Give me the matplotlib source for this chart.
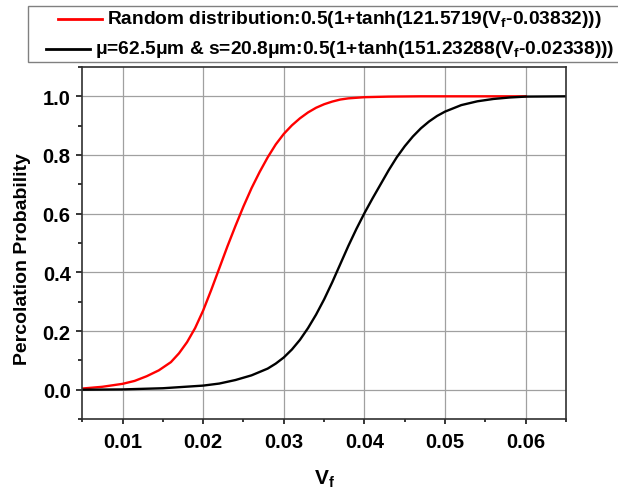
import numpy as np
import matplotlib
matplotlib.use("Agg")
import matplotlib.pyplot as plt
from matplotlib.lines import Line2D
from matplotlib.ticker import MultipleLocator
from matplotlib.offsetbox import AnchoredOffsetbox, DrawingArea, HPacker, VPacker, TextArea

plt.rcParams['font.family'] = ['Liberation Sans', 'DejaVu Sans']
plt.rcParams['font.weight'] = 'bold'
plt.rcParams['mathtext.fontset'] = 'custom'
plt.rcParams['mathtext.rm'] = 'Liberation Sans:bold'
plt.rcParams['mathtext.it'] = 'Liberation Sans:bold'
plt.rcParams['mathtext.bf'] = 'Liberation Sans:bold'

# values
vf_random = [0.005, 0.0075, 0.010, 0.0115, 0.013, 0.0145, 0.016, 0.017, 0.018,
             0.019, 0.020, 0.021, 0.022, 0.023, 0.024, 0.025, 0.026, 0.027,
             0.028, 0.029, 0.030, 0.031, 0.032, 0.033, 0.034, 0.035, 0.036,
             0.037, 0.038, 0.040, 0.043, 0.047, 0.060]
p_random = [0.004, 0.010, 0.020, 0.030, 0.046, 0.066, 0.094, 0.124, 0.162,
            0.210, 0.270, 0.340, 0.414, 0.488, 0.558, 0.625, 0.687, 0.742,
            0.792, 0.836, 0.872, 0.901, 0.925, 0.945, 0.961, 0.973, 0.982,
            0.989, 0.993, 0.997, 0.999, 1.000, 1.000]

vf_sized = [0.005, 0.010, 0.015, 0.020, 0.022, 0.024, 0.026, 0.028, 0.029,
            0.030, 0.031, 0.032, 0.033, 0.034, 0.035, 0.036, 0.037, 0.038,
            0.039, 0.040, 0.041, 0.042, 0.043, 0.044, 0.045, 0.046, 0.047,
            0.048, 0.049, 0.050, 0.052, 0.054, 0.056, 0.058, 0.060, 0.065]
p_sized = [0.000, 0.001, 0.005, 0.014, 0.021, 0.033, 0.049, 0.072, 0.089,
           0.110, 0.137, 0.170, 0.210, 0.256, 0.308, 0.366, 0.428, 0.490,
           0.548, 0.602, 0.652, 0.700, 0.748, 0.792, 0.830, 0.863, 0.891,
           0.914, 0.933, 0.948, 0.970, 0.983, 0.991, 0.996, 0.999, 1.000]

labels = ["Random distribution:0.5(1+tanh(121.5719(V$_f$-0.03832)))",
          "\u03bc=62.5\u03bcm & s=20.8\u03bcm:0.5(1+tanh(151.23288(V$_f$-0.02338)))"]
colors = ['#ff0000', '#000000']

fig = plt.figure(figsize=(6.18, 4.89), dpi=100)
ax = fig.add_axes([0.133, 0.141, 0.783, 0.72])

ax.plot(vf_random, p_random, color=colors[0], lw=1.7)
ax.plot(vf_sized, p_sized, color=colors[1], lw=1.7)

ax.set_xlim(0.005, 0.065)
ax.set_ylim(-0.1, 1.1)
ax.xaxis.set_minor_locator(MultipleLocator(0.005))
ax.yaxis.set_minor_locator(MultipleLocator(0.1))
ax.set_xticks([0.01, 0.02, 0.03, 0.04, 0.05, 0.06])
ax.set_xticklabels(['0.01', '0.02', '0.03', '0.04', '0.05', '0.06'])
ax.set_yticks([0.0, 0.2, 0.4, 0.6, 0.8, 1.0])
ax.set_yticklabels(['0.0', '0.2', '0.4', '0.6', '0.8', '1.0'])

ax.grid(True, which='major', color='#a0a0a0', lw=0.9)
ax.set_axisbelow(True)
for s in ax.spines.values():
    s.set_color('#303030')
    s.set_linewidth(1.2)

ax.tick_params(axis='x', which='major', length=3.6, width=1.1, pad=6, labelsize=14.5)
ax.tick_params(axis='x', which='minor', length=2.2, width=1.1)
ax.tick_params(axis='y', which='major', length=4.3, width=1.1, pad=4, labelsize=14.5)
ax.tick_params(axis='y', which='minor', length=2.8, width=1.1)

ax.set_xlabel("V$_f$", fontsize=15, fontweight='bold', labelpad=12)
ax.set_ylabel("Percolation Probability", fontsize=14, fontweight='bold')
ax.yaxis.set_label_coords(-0.106, 0.457)

# legend rows centred, as in the original
rows = []
for label, color in zip(labels, colors):
    da = DrawingArea(32, 10, 0, 0)
    da.add_artist(Line2D([0, 32], [5, 5], color=color, lw=2))
    ta = TextArea(label, textprops=dict(fontsize=13.8, fontweight='bold'))
    rows.append(HPacker(children=[da, ta], align='center', pad=0, sep=3.6))
box = VPacker(children=rows, align='center', pad=0, sep=6.5)
inner = HPacker(children=[DrawingArea(11, 1), box, DrawingArea(11, 1)], pad=0, sep=0)
leg = AnchoredOffsetbox(loc='upper center', child=inner, pad=0.15, frameon=True,
                        bbox_to_anchor=(0.534, 0.985), bbox_transform=fig.transFigure,
                        borderpad=0)
leg.patch.set_edgecolor('#808080')
leg.patch.set_linewidth(1.0)
fig.add_artist(leg)

fig.savefig("out.png", dpi=100)
